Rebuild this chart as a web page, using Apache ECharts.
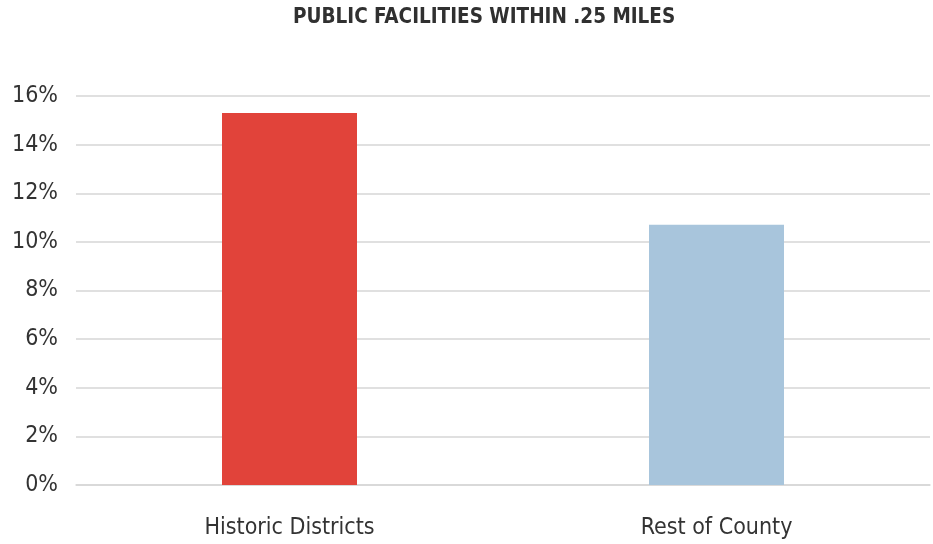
<!DOCTYPE html>
<html>
<head>
<meta charset="utf-8">
<script src="https://cdn.jsdelivr.net/npm/echarts@6/dist/echarts.min.js"></script>
<style>
html,body{margin:0;padding:0;background:#fff;}
#chart{width:933px;height:544px;}
</style>
</head>
<body>
<div id="chart"></div>
<script>
const categories = ["Historic Districts", "Rest of County"];
const values = [15.3, 10.7];
const barColors = ["#e1433a", "#a8c5dc"];
const yTicks = [0, 2, 4, 6, 8, 10, 12, 14, 16];
const titleText = "PUBLIC FACILITIES WITHIN .25 MILES";

const FONT = '"Liberation Sans Narrow", "Arial Narrow", "DejaVu Sans Condensed", sans-serif';
const chart = echarts.init(document.getElementById('chart'));
chart.setOption({
  animation: false,
  backgroundColor: '#fff',
  title: {
    text: titleText,
    left: 293,
    top: 7,
    padding: 0,
    textStyle: { fontFamily: FONT, fontSize: 20.5, fontWeight: 'bold', color: '#303030' }
  },
  grid: { left: 76, right: 3, top: 96, bottom: 59, containLabel: false, outerBoundsMode: 'none' },
  xAxis: {
    type: 'category',
    data: categories,
    axisLine: { show: true, lineStyle: { color: '#d6d6d6', width: 1.5 } },
    axisTick: { show: false },
    axisLabel: { fontFamily: FONT, fontSize: 23, color: '#333', margin: 32 }
  },
  yAxis: {
    type: 'value',
    min: yTicks[0],
    max: yTicks[yTicks.length - 1],
    interval: 2,
    axisLine: { show: false },
    axisTick: { show: false },
    splitLine: { lineStyle: { color: '#d6d6d6', width: 1.5 } },
    axisLabel: { fontFamily: FONT, fontSize: 23, color: '#333', margin: 18, formatter: v => v + '%' }
  },
  series: [{
    type: 'bar',
    data: values.map((v, i) => ({ value: v, itemStyle: { color: barColors[i] } })),
    barWidth: 135
  }]
});
</script>
</body>
</html>
